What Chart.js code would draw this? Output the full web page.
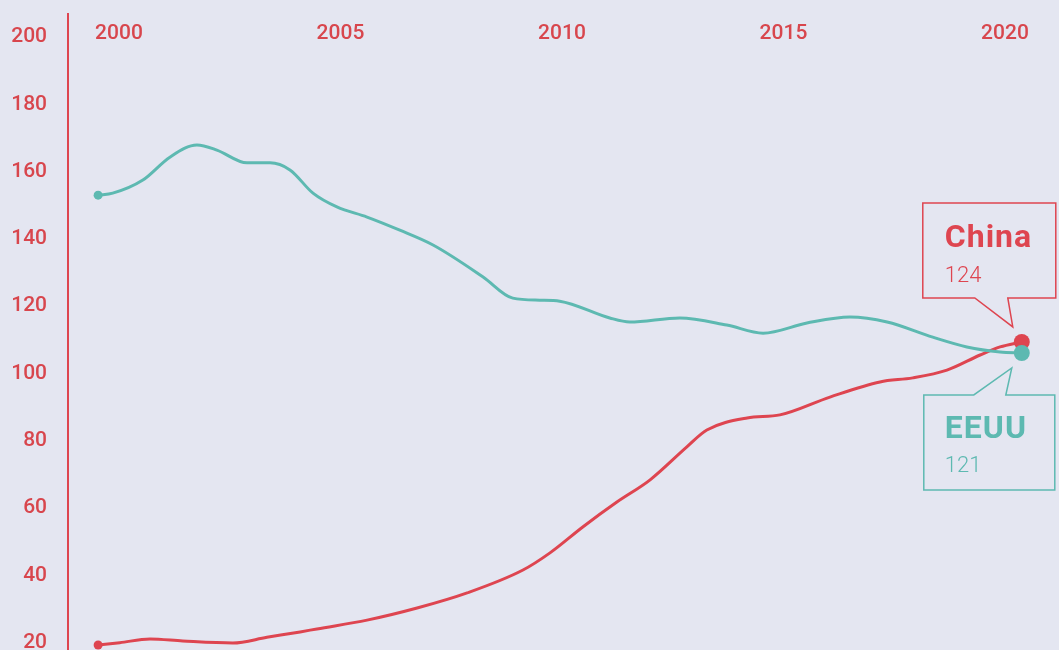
<!DOCTYPE html>
<html>
<head>
<meta charset="utf-8">
<script src="https://cdn.jsdelivr.net/npm/chart.js@4/dist/chart.umd.min.js"></script>
<style>
  html, body { margin: 0; padding: 0; background: #e4e6f1; overflow: hidden; }
  #wrap { width: 1059px; height: 650px; overflow: hidden; }
  canvas { display: block; }
</style>
</head>
<body>
<div id="wrap"><canvas id="c" width="1059" height="670"></canvas></div>
<script>
// ---- data ----
const xTickYears = [2000, 2005, 2010, 2015, 2020];
const yTickValues = [20, 40, 60, 80, 100, 120, 140, 160, 180, 200];

const eeuuYears = [1999.53, 1999.86, 2000.54, 2001.15, 2001.76, 2002.21, 2002.89, 2003.41, 2003.86, 2004.38,
  2004.92, 2005.60, 2006.34, 2007.09, 2008.22, 2008.89, 2009.50, 2009.95, 2011.08, 2011.53,
  2012.66, 2013.72, 2014.54, 2015.53, 2016.50, 2017.34, 2018.37, 2019.14, 2019.89, 2020.38];
const eeuuValues = [153.0, 153.6, 157.5, 164.3, 167.9, 166.4, 162.6, 162.6, 160.5, 153.6,
  149.5, 146.5, 142.6, 138.2, 128.7, 122.4, 121.8, 121.5, 116.5, 115.3,
  116.5, 114.4, 112.0, 115.0, 116.8, 115.3, 110.8, 107.9, 106.4, 106.1];

const chinaYears = [1999.53, 2000.02, 2000.70, 2001.44, 2002.57, 2003.34, 2004.09, 2004.47, 2005.60, 2006.73,
  2007.86, 2009.12, 2009.73, 2010.47, 2011.24, 2011.99, 2012.82, 2013.27, 2014.18, 2014.92,
  2016.05, 2017.18, 2017.92, 2018.69, 2019.44, 2019.89, 2020.38];
const chinaValues = [19.3, 20.0, 21.1, 20.5, 19.9, 21.6, 23.2, 24.1, 26.7, 30.3,
  34.8, 41.6, 46.7, 54.4, 61.8, 68.4, 78.2, 83.2, 86.8, 87.7,
  93.0, 97.5, 98.7, 101.0, 105.5, 107.9, 109.4];

const seriesNames = ['EEUU', 'China'];
const calloutValues = ['121', '124'];

// ---- styles ----
const RED = '#de4550';
const RED_TEXT = '#d8464d';
const TEAL = '#5db9b1';
const FONT = 'Roboto, "DejaVu Sans", sans-serif';

const toPoints = (xs, ys) => xs.map((x, i) => ({ x: x, y: ys[i] }));

const radiusFn = (ctx) => {
  const n = ctx.dataset.data.length;
  if (ctx.dataIndex === 0) return 4.5;
  if (ctx.dataIndex === n - 1) return 8;
  return 0;
};

const calloutPlugin = {
  id: 'callouts',
  afterDatasetsDraw(chart) {
    const ctx = chart.ctx;
    const mc = chart.getDatasetMeta(1);
    const pc = mc.data[mc.data.length - 1];
    drawCallout(ctx, pc.x, pc.y, RED, seriesNames[1], calloutValues[1], true);
    const me = chart.getDatasetMeta(0);
    const pe = me.data[me.data.length - 1];
    drawCallout(ctx, pe.x, pe.y, TEAL, seriesNames[0], calloutValues[0], false);
  }
};

function drawCallout(ctx, px, py, color, name, val, above) {
  ctx.save();
  ctx.strokeStyle = color;
  ctx.lineWidth = 1.5;
  ctx.lineJoin = 'miter';
  ctx.beginPath();
  if (above) {
    const L = px - 99, R = px + 34, T = py - 139, B = py - 44;
    ctx.moveTo(L, T);
    ctx.lineTo(R, T);
    ctx.lineTo(R, B);
    ctx.lineTo(px - 14, B);
    ctx.lineTo(px - 9, py - 15);
    ctx.lineTo(px - 47, B);
    ctx.lineTo(L, B);
    ctx.closePath();
  } else {
    const L = px - 98, R = px + 33, T = py + 42, B = py + 137;
    ctx.moveTo(L, T);
    ctx.lineTo(px - 48, T);
    ctx.lineTo(px - 10, py + 15);
    ctx.lineTo(px - 16, T);
    ctx.lineTo(R, T);
    ctx.lineTo(R, B);
    ctx.lineTo(L, B);
    ctx.closePath();
  }
  ctx.stroke();
  ctx.fillStyle = color;
  ctx.textAlign = 'left';
  ctx.textBaseline = 'alphabetic';
  try { ctx.letterSpacing = '1px'; } catch (e) {}
  ctx.font = 'bold 32px ' + FONT;
  const tx = px - 77;
  if (above) {
    ctx.fillText(name, tx, py - 95);
    try { ctx.letterSpacing = '0px'; } catch (e) {}
    ctx.font = '300 22px ' + FONT;
    ctx.fillText(val, tx, py - 60);
  } else {
    ctx.fillText(name, tx, py + 85);
    try { ctx.letterSpacing = '0px'; } catch (e) {}
    ctx.font = '300 22px ' + FONT;
    ctx.fillText(val, tx, py + 119);
  }
  ctx.restore();
}

const chart = new Chart(document.getElementById('c'), {
  type: 'line',
  data: {
    datasets: [
      {
        label: seriesNames[0],
        data: toPoints(eeuuYears, eeuuValues),
        borderColor: TEAL,
        backgroundColor: TEAL,
        borderWidth: 3,
        cubicInterpolationMode: 'monotone',
        pointRadius: radiusFn,
        pointBorderWidth: 0,
        pointHoverRadius: radiusFn,
        fill: false
      },
      {
        label: seriesNames[1],
        data: toPoints(chinaYears, chinaValues),
        borderColor: RED,
        backgroundColor: RED,
        borderWidth: 3,
        cubicInterpolationMode: 'monotone',
        pointRadius: radiusFn,
        pointBorderWidth: 0,
        pointHoverRadius: radiusFn,
        fill: false
      }
    ]
  },
  options: {
    responsive: false,
    animation: false,
    layout: { autoPadding: false, padding: { top: 14, bottom: 20, left: 0, right: 0 } },
    plugins: { legend: { display: false }, tooltip: { enabled: false } },
    scales: {
      x: {
        type: 'linear',
        axis: 'x',
        position: { y: 206.84 },
        min: 1998.85,
        max: 2021.22,
        afterBuildTicks: (s) => { s.ticks = xTickYears.map(v => ({ value: v })); },
        ticks: {
          color: RED_TEXT,
          padding: 7,
          font: { family: FONT, size: 21, weight: '500' },
          callback: (v) => String(v),
          maxRotation: 0,
          autoSkip: false
        },
        grid: { display: false, drawTicks: false },
        border: { display: false }
      },
      y: {
        type: 'linear',
        position: 'left',
        min: 17.83,
        max: 206.84,
        afterBuildTicks: (s) => { s.ticks = yTickValues.map(v => ({ value: v })); },
        afterFit: (s) => { s.width = 68; },
        ticks: {
          color: RED_TEXT,
          padding: 0,
          font: { family: FONT, size: 21, weight: '500' },
          callback: (v) => String(v),
          autoSkip: false
        },
        grid: {
          display: true,
          drawOnChartArea: false,
          drawTicks: true,
          tickLength: 21,
          tickColor: 'rgba(0,0,0,0)',
          color: 'rgba(0,0,0,0)'
        },
        border: { display: true, color: RED, width: 2 }
      }
    }
  },
  plugins: [calloutPlugin]
});

// keep the plot area at the reference position (top 14, bottom 650, left 68, right 1059)
for (let i = 0; i < 4; i++) {
  const ca = chart.chartArea;
  const pad = chart.options.layout.padding;
  const dt = 14 - ca.top, db = ca.bottom - 650, dr = ca.right - 1059;
  if (Math.abs(dt) < 0.5 && Math.abs(db) < 0.5 && Math.abs(dr) < 0.5) break;
  pad.top += dt;
  pad.bottom += db;
  pad.right += dr;
  chart.update();
}
</script>
</body>
</html>
